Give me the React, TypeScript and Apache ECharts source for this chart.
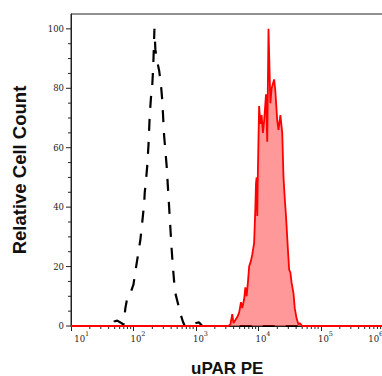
import React, { useEffect, useRef } from "react";
import * as echarts from "echarts";

// x values are log10(fluorescence), y values are relative cell count
const isotypeCurve: [number, number][] = [
  [1.0, 0], [1.66, 0], [1.69, 1.5], [1.74, 1.8], [1.79, 1.2], [1.84, 0.5],
  [1.87, 6], [1.9, 9.5], [1.95, 11], [2.0, 14], [2.02, 17], [2.05, 21],
  [2.08, 25], [2.11, 29], [2.13, 33], [2.15, 37], [2.17, 41], [2.18, 45],
  [2.2, 49], [2.22, 54], [2.24, 61], [2.25, 66], [2.26, 71], [2.27, 74],
  [2.28, 77], [2.3, 81], [2.31, 85], [2.32, 90], [2.335, 100], [2.35, 93],
  [2.38, 89], [2.41, 86], [2.44, 81], [2.46, 76], [2.47, 72], [2.49, 64],
  [2.51, 59], [2.53, 54], [2.55, 47], [2.57, 40], [2.59, 33], [2.61, 26],
  [2.63, 20], [2.65, 15], [2.67, 11], [2.7, 8.5], [2.73, 6], [2.76, 3.5],
  [2.79, 1.5], [2.82, 0], [2.97, 0], [3.0, 1], [3.05, 1.2], [3.1, 0], [6.0, 0],
];

const uparCurve: [number, number][] = [
  [1.0, 0], [3.52, 0], [3.55, 0.5], [3.58, 4], [3.6, 1], [3.63, 2], [3.66, 3],
  [3.69, 4.5], [3.72, 8], [3.74, 6], [3.77, 9], [3.79, 13], [3.81, 10],
  [3.83, 14.5], [3.85, 20], [3.88, 22], [3.9, 24], [3.93, 28], [3.95, 40],
  [3.96, 48], [3.97, 50], [3.98, 37], [3.99, 52], [4.01, 74], [4.03, 68],
  [4.05, 71], [4.07, 65], [4.09, 69], [4.12, 78], [4.14, 62], [4.16, 100],
  [4.19, 75], [4.21, 80], [4.25, 83], [4.27, 79], [4.3, 69], [4.32, 66],
  [4.35, 71], [4.38, 65], [4.4, 50], [4.42, 43], [4.44, 37], [4.47, 26],
  [4.49, 19], [4.51, 18], [4.53, 14.5], [4.56, 11], [4.58, 6], [4.61, 2.5],
  [4.64, 0.5], [4.66, 1], [4.7, 0], [6.0, 0],
];

const xTickExponents = [1, 2, 3, 4, 5, 6];
const xMinorMultipliers = [2, 3, 4, 5, 6, 7, 8, 9];
const yTickValues = [0, 20, 40, 60, 80, 100];
const yMinorTickValues = [5, 10, 15, 25, 30, 35, 45, 50, 55, 65, 70, 75, 85, 90, 95];

const AXIS = "#222";

function tickSeries(data: number[][], dx: number, dy: number) {
  return {
    type: "custom",
    coordinateSystem: "cartesian2d",
    silent: true,
    clip: false,
    z: 1,
    data,
    renderItem: (_params: any, api: any) => {
      const p = api.coord([api.value(0), api.value(1)]);
      return {
        type: "line",
        shape: { x1: p[0], y1: p[1], x2: p[0] + dx, y2: p[1] + dy },
        style: { stroke: AXIS, lineWidth: 1 },
      };
    },
  };
}

const base = { fontFamily: "DejaVu Serif", fontSize: 8.5, color: "#222", lineHeight: 18 };
const sup = { fontFamily: "DejaVu Serif", fontSize: 6.5, color: "#222", verticalAlign: "top", lineHeight: 8 };

export default function App() {
  const ref = useRef<HTMLDivElement>(null);
  useEffect(() => {
    document.body.style.margin = "0";
    if (!ref.current) return;
    const chart = echarts.init(ref.current, undefined, { renderer: "svg" });
    const xMinor: number[][] = [];
    xTickExponents.slice(0, -1).forEach((e) => {
      xMinorMultipliers.forEach((m) => xMinor.push([Math.log10(m * Math.pow(10, e)), 0]));
    });
    const first = xTickExponents[0];
    const last = xTickExponents[xTickExponents.length - 1];
    chart.setOption({
      animation: false,
      grid: {
        left: 71,
        right: -1.5,
        top: 14,
        bottom: 50,
        outerBoundsMode: "none",
        containLabel: false,
        show: true,
        borderColor: AXIS,
        borderWidth: 1,
        backgroundColor: "transparent",
      },
      xAxis: {
        type: "value",
        min: 1,
        max: 6,
        interval: 1,
        name: "uPAR PE",
        nameLocation: "middle",
        nameGap: 35,
        nameTextStyle: {
          fontFamily: "Liberation Sans",
          fontWeight: "bold",
          fontSize: 17,
          lineHeight: 14,
          color: "#111",
        },
        axisLine: { show: true, lineStyle: { color: AXIS, width: 1 } },
        axisTick: { show: true, length: 5, lineStyle: { color: AXIS } },
        splitLine: { show: false },
        axisLabel: {
          margin: 4,
          hideOverlap: false,
          showMinLabel: true,
          showMaxLabel: true,
          formatter: (v: number) =>
            v === first
              ? `{bl|10}{s|${v}}`
              : v === last
              ? `{br|10}{sr|${v}}`
              : `{b|10}{s|${v}}`,
          rich: {
            b: { ...base, padding: [0, 0, 0, 9] },
            bl: { ...base, padding: [0, 0, 0, 21.5] },
            br: { ...base },
            s: { ...sup },
            sr: { ...sup, padding: [0, 15.5, 0, 0] },
          },
        },
      },
      yAxis: {
        type: "value",
        min: 0,
        max: 105,
        interval: 20,
        name: "Relative Cell Count",
        nameLocation: "middle",
        nameGap: 42,
        nameTextStyle: {
          fontFamily: "Liberation Sans",
          fontWeight: "bold",
          fontSize: 18.5,
          color: "#111",
        },
        axisLine: { show: true, lineStyle: { color: AXIS, width: 1 } },
        axisTick: { show: false },
        splitLine: { show: false },
        axisLabel: {
          margin: 7,
          fontFamily: "DejaVu Serif",
          fontSize: 8.5,
          color: "#222",
          formatter: (v: number) => (yTickValues.includes(v) ? String(v) : ""),
        },
      },
      series: [
        tickSeries(xMinor, 0, 3),
        tickSeries(yTickValues.map((v) => [1, v]), -5, 0),
        tickSeries(yMinorTickValues.map((v) => [1, v]), -3, 0),
        {
          type: "line",
          name: "Isotype",
          data: isotypeCurve,
          showSymbol: false,
          symbol: "none",
          z: 3,
          lineStyle: { color: "#000", width: 2.2, type: [12, 11] },
        },
        {
          type: "line",
          name: "uPAR",
          data: uparCurve,
          showSymbol: false,
          symbol: "none",
          z: 4,
          lineStyle: { color: "#ff0000", width: 1.8 },
          areaStyle: { color: "rgba(255,0,0,0.4)", opacity: 1 },
        },
      ],
    });
    return () => chart.dispose();
  }, []);
  return (
    <div
      ref={ref}
      style={{ position: "fixed", left: 0, top: 0, width: 382, height: 376, background: "#fff" }}
    />
  );
}
